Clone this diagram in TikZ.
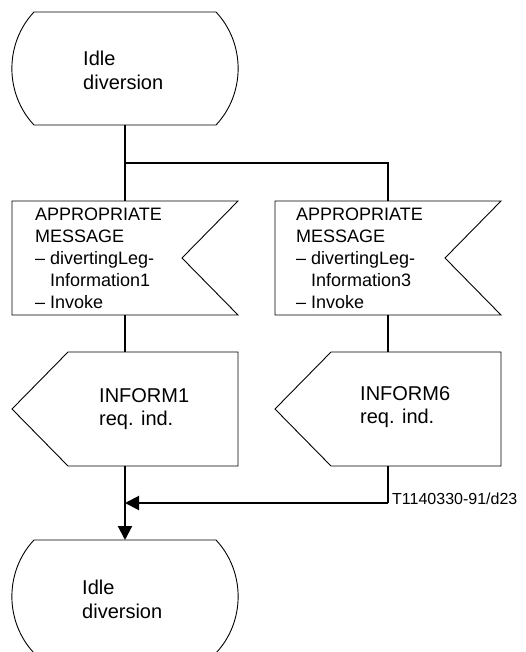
\documentclass[tikz,border=0pt]{standalone}
\usepackage{fontspec}
\setmainfont{Liberation Sans}
\usetikzlibrary{arrows.meta}

% SDL symbol outlines, drawn around an (invisible) node of the symbol's size
\newcommand\sdlstate[1]{%
  \draw[outline] ([xshift=22pt]#1.north west) -- ([xshift=-22pt]#1.north east)
    .. controls +(29.5,31.4) and +(29.5,-31.4) .. ([xshift=-22pt]#1.south east)
    -- ([xshift=22pt]#1.south west)
    .. controls +(-29.5,-31.4) and +(-29.5,31.4) .. ([xshift=22pt]#1.north west) -- cycle;}
\newcommand\sdlinput[1]{%
  \draw[outline] (#1.north west) -- (#1.north east) -- ([xshift=-56pt]#1.east)
    -- (#1.south east) -- (#1.south west) -- cycle;}
\newcommand\sdloutput[1]{%
  \draw[outline] (#1.west) -- ([xshift=56pt]#1.north west) -- (#1.north east)
    -- (#1.south east) -- ([xshift=56pt]#1.south west) -- cycle;}

\begin{document}
\begin{tikzpicture}[x=1pt,y=-1pt,
  symbol/.style={minimum width=226pt,minimum height=114pt,inner sep=0pt,outer sep=0pt},
  outline/.style={line width=0.9pt},
  flow/.style={line width=2pt},
  branch/.style={line width=1.3pt},
  arr/.style={-{Triangle[length=14pt,width=14pt]}},
  bigtext/.style={font=\fontsize{20}{24}\selectfont, align=left, inner sep=0pt, anchor=west},
  outtext/.style={font=\fontsize{20}{23}\selectfont, align=left, inner sep=0pt, anchor=west},
  midtext/.style={font=\fontsize{18}{22}\selectfont, align=left, inner sep=0pt, anchor=west},
  tag/.style={font=\fontsize{16}{19}\selectfont, inner sep=0pt, anchor=base west}]

\useasboundingbox (0,0) rectangle (525,652);

% symbols
\node[symbol,minimum height=113pt] (s1) at (125,68.5) {};
\node[symbol] (i1) at (125,258) {};
\node[symbol] (i2) at (388,258) {};
\node[symbol] (o1) at (125,409) {};
\node[symbol] (o2) at (388,409) {};
\node[symbol,minimum height=113pt] (s2) at (125,596.5) {};

\sdlstate{s1}
\sdlinput{i1}
\sdlinput{i2}
\sdloutput{o1}
\sdloutput{o2}
\sdlstate{s2}

% texts
\node[bigtext] (s1t) at (83,70) {Idle\\diversion};
\node[midtext] (i1t) at (35,258) {APPROPRIATE\\MESSAGE\\– divertingLeg-\\\hspace*{15pt}Information1\\– Invoke};
\node[midtext] (i2t) at (296,258) {APPROPRIATE\\MESSAGE\\– divertingLeg-\\\hspace*{15pt}Information3\\– Invoke};
\node[outtext] (o1t) at (99,409.5) {INFORM1\\req. ind.};
\node[outtext] (o2t) at (360,407.5) {INFORM6\\req. ind.};
\node[bigtext] (s2t) at (82,599) {Idle\\diversion};

% connectors
\coordinate (fork) at (125,163);
\coordinate (merge) at (125,503);
\draw[flow] (s1.south) -- (i1.north);
\draw[branch] (fork) -| (i2.north);
\draw[flow] (i1.south) -- (o1.north);
\draw[branch] (i2.south) -- (o2.north);
\draw[flow,arr] (o1.south) -- (s2.north);
\draw[branch] (o2.south) -- (o2.south |- merge);
\draw[flow,arr] (o2.south |- merge) -- (merge);

\node[tag] (ref) at (392,504.5) {T1140330-91/d23};
\end{tikzpicture}
\end{document}
